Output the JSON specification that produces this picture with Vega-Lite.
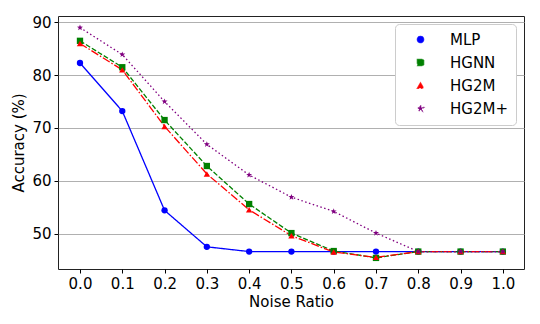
{
  "$schema": "https://vega.github.io/schema/vega-lite/v6.json",
  "width": 466,
  "height": 253,
  "autosize": {"type": "none"},
  "padding": {"left": 58, "top": 16, "right": 16, "bottom": 55},
  "config": {
    "font": "DejaVu Sans",
    "view": {"stroke": "#222", "strokeWidth": 1},
    "axis": {"labelFont": "DejaVu Sans", "titleFont": "DejaVu Sans", "labelFontSize": 15, "titleFontSize": 15, "labelColor": "#000", "titleColor": "#000", "titleFontWeight": "normal", "tickColor": "#000", "domain": false, "tickSize": 4}
  },
  "data": {"values": [
    {"x": 0.0, "s": "MLP", "a": 82.3}, {"x": 0.1, "s": "MLP", "a": 73.2}, {"x": 0.2, "s": "MLP", "a": 54.4}, {"x": 0.3, "s": "MLP", "a": 47.5}, {"x": 0.4, "s": "MLP", "a": 46.6}, {"x": 0.5, "s": "MLP", "a": 46.6}, {"x": 0.6, "s": "MLP", "a": 46.6}, {"x": 0.7, "s": "MLP", "a": 46.6}, {"x": 0.8, "s": "MLP", "a": 46.6}, {"x": 0.9, "s": "MLP", "a": 46.6}, {"x": 1.0, "s": "MLP", "a": 46.6},
    {"x": 0.0, "s": "HGNN", "a": 86.5}, {"x": 0.1, "s": "HGNN", "a": 81.5}, {"x": 0.2, "s": "HGNN", "a": 71.5}, {"x": 0.3, "s": "HGNN", "a": 62.8}, {"x": 0.4, "s": "HGNN", "a": 55.6}, {"x": 0.5, "s": "HGNN", "a": 50.1}, {"x": 0.6, "s": "HGNN", "a": 46.7}, {"x": 0.7, "s": "HGNN", "a": 45.4}, {"x": 0.8, "s": "HGNN", "a": 46.6}, {"x": 0.9, "s": "HGNN", "a": 46.6}, {"x": 1.0, "s": "HGNN", "a": 46.6},
    {"x": 0.0, "s": "HG2M", "a": 86.0}, {"x": 0.1, "s": "HG2M", "a": 81.0}, {"x": 0.2, "s": "HG2M", "a": 70.3}, {"x": 0.3, "s": "HG2M", "a": 61.3}, {"x": 0.4, "s": "HG2M", "a": 54.5}, {"x": 0.5, "s": "HG2M", "a": 49.6}, {"x": 0.6, "s": "HG2M", "a": 46.5}, {"x": 0.7, "s": "HG2M", "a": 45.5}, {"x": 0.8, "s": "HG2M", "a": 46.6}, {"x": 0.9, "s": "HG2M", "a": 46.6}, {"x": 1.0, "s": "HG2M", "a": 46.6},
    {"x": 0.0, "s": "HG2M+", "a": 89.0}, {"x": 0.1, "s": "HG2M+", "a": 83.9}, {"x": 0.2, "s": "HG2M+", "a": 75.0}, {"x": 0.3, "s": "HG2M+", "a": 66.9}, {"x": 0.4, "s": "HG2M+", "a": 61.1}, {"x": 0.5, "s": "HG2M+", "a": 56.9}, {"x": 0.6, "s": "HG2M+", "a": 54.2}, {"x": 0.7, "s": "HG2M+", "a": 50.1}, {"x": 0.8, "s": "HG2M+", "a": 46.6}, {"x": 0.9, "s": "HG2M+", "a": 46.6}, {"x": 1.0, "s": "HG2M+", "a": 46.6}
  ]},
  "encoding": {
    "x": {"field": "x", "type": "quantitative", "scale": {"domain": [-0.052, 1.05], "nice": false, "zero": false},
      "axis": {"values": [0, 0.1, 0.2, 0.3, 0.4, 0.5, 0.6, 0.7, 0.8, 0.9, 1.0], "format": ".1f", "grid": false, "title": "Noise Ratio", "titlePadding": 3, "labelPadding": 3}},
    "y": {"field": "a", "type": "quantitative", "scale": {"domain": [43.3, 91.2], "nice": false, "zero": false},
      "axis": {"values": [50, 60, 70, 80, 90], "grid": true, "gridColor": "#b0b0b0", "gridWidth": 1, "title": "Accuracy (%)", "titlePadding": 5, "labelPadding": 3}}
  },
  "layer": [
    {"mark": {"type": "line", "strokeWidth": 1.3},
     "encoding": {
       "color": {"field": "s", "type": "nominal",
         "scale": {"domain": ["MLP", "HGNN", "HG2M", "HG2M+"], "range": ["#0000ff", "#008000", "#ff0000", "#800080"]},
         "legend": {"title": null, "orient": "top-right", "offset": 8, "labelFontSize": 15, "labelFont": "DejaVu Sans", "labelColor": "#000",
           "symbolSize": 100, "symbolStrokeWidth": 1.3, "labelOffset": 22, "symbolOffset": 10, "rowPadding": 7, "padding": 8,
           "strokeColor": "#cccccc", "cornerRadius": 4, "fillColor": "white",
           "encode": {"symbols": {"update": {
             "shape": {"value": {"expr": "datum.value === 'MLP' ? 'M-3,0L3,0M-0.6,0A0.6,0.6 0 1,0 0.6,0A0.6,0.6 0 1,0 -0.6,0Z' : datum.value === 'HGNN' ? 'M-3,0L3,0M-0.55,-0.55L0.55,-0.55L0.55,0.55L-0.55,0.55Z' : datum.value === 'HG2M' ? 'M-3,0L3,0M0,-0.7L0.65,0.45L-0.65,0.45Z' : 'M-3,0L3,0M0,-0.6L0.15,-0.2L0.57,-0.19L0.24,0.07L0.35,0.49L0,0.24L-0.35,0.49L-0.24,0.07L-0.57,-0.19L-0.15,-0.2Z'"}},
             "strokeDash": {"value": {"expr": "datum.value === 'MLP' ? [1,0] : datum.value === 'HGNN' ? [5,2] : datum.value === 'HG2M' ? [8,2,1.5,2] : [1.5,2.5]"}},
             "fill": {"value": {"expr": "scale('color', datum.value)"}},
             "stroke": {"value": {"expr": "scale('color', datum.value)"}},
             "strokeWidth": {"value": 1.3},
             "strokeOpacity": {"value": 0.75},
             "fillOpacity": {"value": 1},
             "opacity": {"value": 1}
           }}}
         }},
       "strokeDash": {"field": "s", "type": "nominal", "legend": null,
         "scale": {"domain": ["MLP", "HGNN", "HG2M", "HG2M+"], "range": [[1, 0], [5, 2], [8, 2, 1.5, 2], [1.5, 2.5]]}}}},
    {"mark": {"type": "point", "filled": true, "opacity": 1},
     "encoding": {
       "fill": {"field": "s", "type": "nominal", "legend": null,
         "scale": {"domain": ["MLP", "HGNN", "HG2M", "HG2M+"], "range": ["#0000ff", "#008000", "#ff0000", "#800080"]}},
       "shape": {"field": "s", "type": "nominal", "legend": null,
         "scale": {"domain": ["MLP", "HGNN", "HG2M", "HG2M+"], "range": ["circle", "square", "triangle-up", "M0,-1L0.24,-0.33L0.95,-0.31L0.39,0.12L0.59,0.81L0,0.4L-0.59,0.81L-0.39,0.12L-0.95,-0.31L-0.24,-0.33Z"]}},
       "size": {"field": "s", "type": "nominal", "legend": null,
         "scale": {"domain": ["MLP", "HGNN", "HG2M", "HG2M+"], "range": [40, 40, 40, 30]}}
     }}
  ]
}
